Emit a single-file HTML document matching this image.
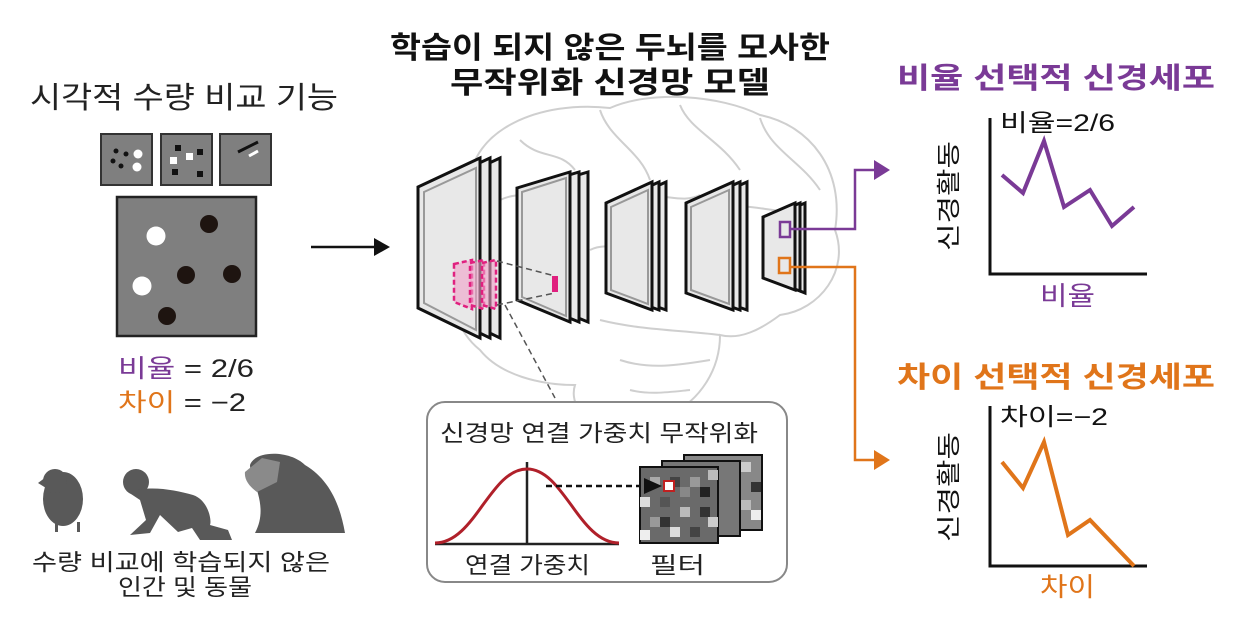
<!DOCTYPE html>
<html><head><meta charset="utf-8"><style>
html,body{margin:0;padding:0;background:#fff;}
svg{display:block;}
text{font-family:"Liberation Sans","Noto Sans CJK KR",sans-serif;}
</style></head><body>
<svg width="1248" height="622" viewBox="0 0 1248 622" xmlns="http://www.w3.org/2000/svg">
<!-- Brain outline -->
<g fill="none" stroke="#cfcfcf" stroke-width="2">
<path d="M470,185 C470,130 540,100 610,108 C650,90 720,95 760,115 C810,125 845,170 835,230 C850,270 820,310 780,315 C760,330 740,340 720,335 C720,370 700,400 670,415 C640,440 610,440 600,425 C580,420 570,400 575,385 C540,385 500,375 480,350 C455,330 450,300 455,270 C445,240 450,205 470,185 Z"/>
<path d="M520,140 C540,160 560,150 575,170 M600,110 C610,140 640,150 650,180 M680,105 C690,130 720,140 740,170 M760,118 C770,150 800,160 820,190 M500,200 C520,190 540,200 560,190 M640,200 C660,190 680,205 700,195 M720,210 C750,200 770,215 800,210 M600,320 C640,330 680,330 720,335 M620,360 C650,370 680,365 710,360 M630,390 C650,395 670,392 690,390 M590,250 C610,240 630,255 650,245"/>
</g>
<!-- Left title -->
<text x="30" y="108" font-size="30" fill="#222" textLength="308" lengthAdjust="spacingAndGlyphs">시각적 수량 비교 기능</text>
<!-- thumbnails -->
<rect x="101" y="134" width="51" height="51" fill="#7f7f7f" stroke="#333" stroke-width="2"/>
<circle cx="116" cy="151" r="2.5" fill="#111"/><circle cx="126" cy="154" r="2.5" fill="#111"/><circle cx="113" cy="161" r="2.5" fill="#111"/><circle cx="121" cy="166" r="2.5" fill="#111"/>
<circle cx="138" cy="154" r="4.5" fill="#fff"/><circle cx="137" cy="167" r="4.5" fill="#fff"/>
<rect x="161" y="134" width="51" height="51" fill="#7f7f7f" stroke="#333" stroke-width="2"/>
<rect x="175" y="145" width="6" height="6" fill="#111"/><rect x="197" y="149" width="6" height="6" fill="#111"/><rect x="170" y="157" width="7" height="7" fill="#fff"/><rect x="186" y="153" width="7" height="7" fill="#fff"/><rect x="172" y="169" width="6" height="6" fill="#111"/><rect x="197" y="171" width="6" height="6" fill="#111"/>
<rect x="220" y="134" width="51" height="51" fill="#7f7f7f" stroke="#333" stroke-width="2"/>
<line x1="238" y1="152" x2="258" y2="142" stroke="#111" stroke-width="3"/><line x1="249" y1="156" x2="258" y2="151" stroke="#fff" stroke-width="3"/>
<rect x="117" y="197" width="139" height="139" fill="#7f7f7f" stroke="#222" stroke-width="2.5"/>
<circle cx="156" cy="236" r="9.5" fill="#fff"/><circle cx="209" cy="224" r="9" fill="#1e1410"/><circle cx="142" cy="286" r="9.5" fill="#fff"/><circle cx="186" cy="275" r="9" fill="#1e1410"/><circle cx="232" cy="274" r="9" fill="#1e1410"/><circle cx="167" cy="316" r="9" fill="#1e1410"/>
<text x="118" y="377" font-size="25" textLength="136" lengthAdjust="spacingAndGlyphs"><tspan fill="#7a3a96">비율</tspan><tspan fill="#222"> = 2/6</tspan></text>
<text x="118" y="411" font-size="25" textLength="128" lengthAdjust="spacingAndGlyphs"><tspan fill="#e0751a">차이</tspan><tspan fill="#222"> = −2</tspan></text>
<!-- arrow -->
<line x1="311" y1="247" x2="378" y2="247" stroke="#111" stroke-width="2.5"/>
<path d="M374,238 L390,247 L374,256z" fill="#111"/>
<!-- animals -->
<g fill="#595959">
<ellipse cx="63" cy="499" rx="20" ry="27"/><circle cx="55" cy="481" r="12"/><path d="M38,483 L46,477 L46,488z"/>
<rect x="55" y="522" width="3" height="10"/><rect x="77" y="522" width="3" height="10"/>
<circle cx="136" cy="482" r="13"/><path d="M128,492 C150,485 175,490 193,495 C208,500 212,520 210,525 L228,530 L232,540 L200,540 L192,528 L178,532 L160,515 L150,533 L130,535 L146,520 L140,500z"/>
<path d="M255,533 C270,505 250,480 250,465 C255,450 290,450 305,465 C330,480 340,505 345,533z"/>
</g>
<path d="M245,472 L262,458 L280,462 L277,482 L257,492 C250,487 244,480 245,472z" fill="#8a8a8a"/>
<text x="32" y="570" font-size="23" fill="#222" textLength="298" lengthAdjust="spacingAndGlyphs">수량 비교에 학습되지 않은</text>
<text x="118" y="595" font-size="23" fill="#222" textLength="134" lengthAdjust="spacingAndGlyphs">인간 및 동물</text>
<!-- center title -->
<text x="390" y="58" font-size="30" font-weight="bold" fill="#111" textLength="440" lengthAdjust="spacingAndGlyphs">학습이 되지 않은 두뇌를 모사한</text>
<text x="450" y="93" font-size="30" font-weight="bold" fill="#111" textLength="320" lengthAdjust="spacingAndGlyphs">무작위화 신경망 모델</text>
<!-- layers -->
<g stroke="#111" stroke-width="3" fill="#e8e8e8" stroke-linejoin="miter">
<path d="M438,187 L500,158 L500,338 L438,308z"/><path d="M428,187 L490,158 L490,338 L428,308z"/><path d="M418,187 L480,158 L480,338 L418,308z"/>
<path d="M535,188 L588,172 L588,322 L535,300z"/><path d="M526,188 L579,172 L579,322 L526,300z"/><path d="M517,188 L570,172 L570,322 L517,300z"/>
<path d="M620,203 L666,182 L666,310 L620,293z"/><path d="M613,203 L659,182 L659,310 L613,293z"/><path d="M606,203 L652,182 L652,310 L606,293z"/>
<path d="M700,203 L747,182 L747,310 L700,293z"/><path d="M693,203 L740,182 L740,310 L693,293z"/><path d="M686,203 L733,182 L733,310 L686,293z"/>
<path d="M773,217 L805,203 L805,293 L773,280z"/><path d="M768,217 L800,203 L800,291 L768,279z"/><path d="M763,217 L795,203 L795,290 L763,278z"/>
</g>
<g fill="none" stroke="#999" stroke-width="2"><path d="M424,192 L476,168 L476,330 L424,303z"/><path d="M522,192 L566,178 L566,316 L522,297z"/><path d="M611,207 L648,190 L648,304 L611,290z"/><path d="M691,207 L729,190 L729,304 L691,290z"/></g>
<!-- magenta -->
<g fill="#f0a0c8" fill-opacity="0.6" stroke="#e0207f" stroke-width="2.5" stroke-dasharray="5,3">
<path d="M454,264 L472,260 L472,309 L454,302z"/><path d="M470,263 L484,260 L484,309 L470,305z"/><path d="M482,263 L496,260 L496,309 L482,305z"/>
</g>
<g stroke="#555" stroke-width="1.5" stroke-dasharray="6,4" fill="none">
<line x1="497" y1="261" x2="555" y2="276"/><line x1="497" y1="305" x2="555" y2="293"/><line x1="505" y1="305" x2="555" y2="398"/>
</g>
<rect x="552" y="276" width="6" height="16" fill="#e0207f"/>
<!-- connectors -->
<rect x="780" y="222" width="10" height="15" fill="none" stroke="#7a3a96" stroke-width="2.5"/>
<polyline points="790,229 855,229 855,170 878,170" fill="none" stroke="#7a3a96" stroke-width="2.5"/>
<path d="M874,160 L890,170 L874,180z" fill="#7a3a96"/>
<rect x="779" y="258" width="11" height="15" fill="none" stroke="#e0751a" stroke-width="2.5"/>
<polyline points="790,267 855,267 855,460 878,460" fill="none" stroke="#e0751a" stroke-width="2.5"/>
<path d="M874,450 L890,460 L874,470z" fill="#e0751a"/>
<!-- right charts -->
<text x="897" y="88" font-size="29" font-weight="bold" fill="#7a3a96" textLength="318" lengthAdjust="spacingAndGlyphs">비율 선택적 신경세포</text>
<polyline points="990,118 990,274 1147,274" fill="none" stroke="#111" stroke-width="3"/>
<text x="1000" y="131" font-size="24" fill="#111" textLength="115" lengthAdjust="spacingAndGlyphs">비율=2/6</text>
<text transform="translate(957,196) rotate(-90)" font-size="24" fill="#111" text-anchor="middle" textLength="110" lengthAdjust="spacingAndGlyphs">신경활동</text>
<polyline points="1002,175 1023,193 1044,141 1064,207 1090,190 1112,226 1134,207" fill="none" stroke="#7a3a96" stroke-width="4"/>
<text x="1040" y="305" font-size="26" fill="#7a3a96" textLength="55" lengthAdjust="spacingAndGlyphs">비율</text>
<text x="897" y="387" font-size="29" font-weight="bold" fill="#e0751a" textLength="318" lengthAdjust="spacingAndGlyphs">차이 선택적 신경세포</text>
<polyline points="990,406 990,566 1147,566" fill="none" stroke="#111" stroke-width="3"/>
<text x="1000" y="425" font-size="24" fill="#111" textLength="108" lengthAdjust="spacingAndGlyphs">차이=−2</text>
<text transform="translate(957,487) rotate(-90)" font-size="24" fill="#111" text-anchor="middle" textLength="110" lengthAdjust="spacingAndGlyphs">신경활동</text>
<polyline points="1002,462 1023,488 1044,442 1068,535 1090,520 1134,566" fill="none" stroke="#e0751a" stroke-width="4"/>
<text x="1040" y="596" font-size="26" fill="#e0751a" textLength="55" lengthAdjust="spacingAndGlyphs">차이</text>
<!-- bottom box -->
<rect x="427" y="402" width="360" height="180" rx="18" fill="#fff" stroke="#888" stroke-width="2"/>
<text x="440" y="441" font-size="23" fill="#222" textLength="318" lengthAdjust="spacingAndGlyphs">신경망 연결 가중치 무작위화</text>
<line x1="435" y1="544" x2="619" y2="544" stroke="#222" stroke-width="2.5"/>
<line x1="527" y1="462" x2="527" y2="544" stroke="#222" stroke-width="2.5"/>
<path d="M435,543 C475,543 490,469 527,469 C564,469 579,543 619,543" fill="none" stroke="#b0202a" stroke-width="3"/>
<line x1="546" y1="486" x2="640" y2="486" stroke="#111" stroke-width="2.5" stroke-dasharray="6,4"/>
<g stroke="#111" stroke-width="2">
<rect x="684" y="455" width="78" height="75" fill="#888"/>
<rect x="662" y="461" width="78" height="75" fill="#777"/>
<rect x="640" y="467" width="78" height="76" fill="#6a6a6a"/>
</g>
<g stroke="none">
<rect x="741" y="462" width="10" height="10" fill="#ccc"/><rect x="751" y="482" width="10" height="10" fill="#333"/><rect x="741" y="500" width="10" height="10" fill="#bbb"/><rect x="751" y="510" width="10" height="10" fill="#eee"/>
<rect x="650" y="477" width="10" height="10" fill="#aaa"/><rect x="670" y="477" width="10" height="10" fill="#444"/><rect x="690" y="477" width="10" height="10" fill="#999"/><rect x="700" y="487" width="10" height="10" fill="#222"/>
<rect x="640" y="497" width="10" height="10" fill="#ddd"/><rect x="660" y="497" width="10" height="10" fill="#555"/><rect x="680" y="507" width="10" height="10" fill="#bbb"/><rect x="700" y="507" width="10" height="10" fill="#333"/>
<rect x="650" y="517" width="10" height="10" fill="#999"/><rect x="670" y="527" width="10" height="10" fill="#ddd"/><rect x="690" y="527" width="10" height="10" fill="#444"/><rect x="708" y="517" width="10" height="10" fill="#ccc"/>
<rect x="680" y="487" width="10" height="10" fill="#888"/><rect x="660" y="517" width="10" height="10" fill="#333"/><rect x="640" y="530" width="10" height="10" fill="#eee"/><rect x="708" y="470" width="10" height="10" fill="#bbb"/>
</g>
<path d="M644,478 L662,486 L644,494z" fill="#111"/>
<rect x="664" y="481" width="10" height="10" fill="#fff" stroke="#c02020" stroke-width="2"/>
<text x="465" y="573" font-size="23" fill="#222" textLength="125" lengthAdjust="spacingAndGlyphs">연결 가중치</text>
<text x="650" y="573" font-size="23" fill="#222" textLength="55" lengthAdjust="spacingAndGlyphs">필터</text>
</svg>
</body></html>
